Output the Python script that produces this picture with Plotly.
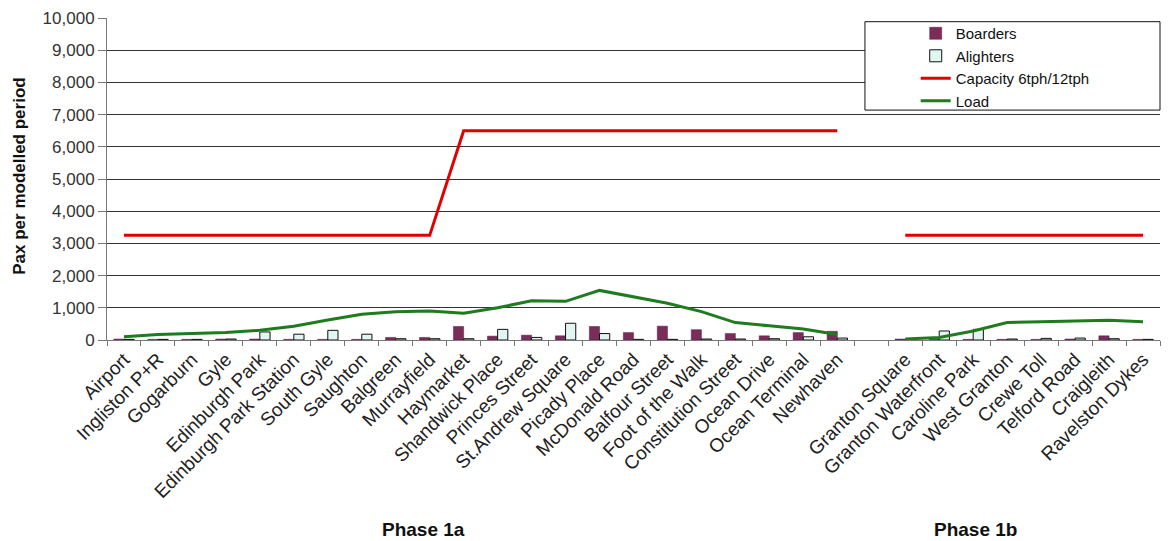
import plotly.graph_objects as go

# Stops along the line; a blank slot separates Phase 1a from Phase 1b
stops = [
    "Airport", "Ingliston P+R", "Gogarburn", "Gyle", "Edinburgh Park",
    "Edinburgh Park Station", "South Gyle", "Saughton", "Balgreen", "Murrayfield",
    "Haymarket", "Shandwick Place", "Princes Street", "St.Andrew Square",
    "Picady Place", "McDonald Road", "Balfour Street", "Foot of the Walk",
    "Constitution Street", "Ocean Drive", "Ocean Terminal", "Newhaven",
    " ",
    "Granton Square", "Granton Waterfront", "Caroline Park", "West Granton",
    "Crewe Toll", "Telford Road", "Craigleith", "Ravelston Dykes",
]

boarders = [
    30, 20, 20, 30, 30, 20, 20, 20, 80, 80,
    420, 120, 150, 130, 420, 230, 430, 320, 200, 130, 230, 270,
    None,
    30, 20, 20, 20, 20, 30, 130, 20,
]

alighters = [
    20, 20, 20, 30, 250, 180, 300, 180, 40, 40,
    40, 330, 80, 520, 200, 20, 20, 30, 30, 40, 100, 60,
    None,
    10, 280, 330, 30, 50, 60, 40, 20,
]

capacity = [
    3250, 3250, 3250, 3250, 3250, 3250, 3250, 3250, 3250, 3250,
    6500, 6500, 6500, 6500, 6500, 6500, 6500, 6500, 6500, 6500, 6500, 6500,
    None,
    3250, 3250, 3250, 3250, 3250, 3250, 3250, 3250,
]

load = [
    100, 170, 200, 230, 300, 430, 620, 800, 880, 900,
    830, 1000, 1220, 1200, 1540, 1350, 1140, 880, 540, 440, 340, 170,
    None,
    30, 80, 280, 540, 570, 590, 610, 570,
]

font_family = "Liberation Sans, Arial, sans-serif"

fig = go.Figure()
fig.add_trace(go.Bar(
    x=stops, y=boarders, name="Boarders",
    marker=dict(color="#7B2D5A", line=dict(color="#5a1f40", width=0.5)),
))
fig.add_trace(go.Bar(
    x=stops, y=alighters, name="Alighters",
    marker=dict(color="#E2F6F1", line=dict(color="#111111", width=1)),
))
fig.add_trace(go.Scatter(
    x=stops, y=capacity, name="Capacity 6tph/12tph", mode="lines",
    line=dict(color="#E00000", width=3), connectgaps=False,
))
fig.add_trace(go.Scatter(
    x=stops, y=load, name="Load", mode="lines",
    line=dict(color="#1E7B1E", width=3),
    connectgaps=False,
))

# Legend frame
fig.add_shape(
    type="rect", xref="paper", yref="paper",
    x0=0.7198, x1=1.0, y0=0.714, y1=0.9885,
    fillcolor="white", line=dict(color="#111111", width=1), layer="above",
)

fig.add_annotation(
    text="<b>Pax per modelled period</b>", xref="paper", yref="paper",
    x=-0.0826, y=0.507, xanchor="center", yanchor="middle",
    textangle=-90, showarrow=False,
    font=dict(size=17, color="#111111", family=font_family),
)
fig.add_annotation(
    text="<b>Phase 1a</b>", xref="paper", yref="paper",
    x=0.301, y=-0.59, xanchor="center", yanchor="middle", showarrow=False,
    font=dict(size=19, color="#111111", family=font_family),
)
fig.add_annotation(
    text="<b>Phase 1b</b>", xref="paper", yref="paper",
    x=0.825, y=-0.59, xanchor="center", yanchor="middle", showarrow=False,
    font=dict(size=19, color="#111111", family=font_family),
)

fig.update_layout(
    width=1169, height=541,
    margin=dict(l=107, r=9, t=18, b=201),
    paper_bgcolor="white", plot_bgcolor="white",
    barmode="group", bargap=0.4, bargroupgap=0.0,
    font=dict(family=font_family, color="#222222", size=17),
    showlegend=True,
    legend=dict(
        x=0.768, y=1.003, xanchor="left", yanchor="top",
        bgcolor="rgba(0,0,0,0)", borderwidth=0,
        font=dict(size=15, color="#111111"),
        itemwidth=30, tracegroupgap=0, traceorder="normal",
    ),
    xaxis=dict(
        type="category", categoryorder="array", categoryarray=stops,
        tickson="boundaries", ticks="outside", ticklen=5, tickcolor="#777777",
        showline=True, linecolor="#777777", linewidth=1,
        showgrid=False, tickangle=-45, automargin=False,
        tickfont=dict(size=19, color="#222222"),
    ),
    yaxis=dict(
        range=[0, 10000], dtick=1000, tickformat=",",
        showgrid=True, gridcolor="#333333", gridwidth=1,
        zeroline=False, automargin=False,
        showline=True, linecolor="#777777", linewidth=1,
        ticks="outside", ticklen=8, tickcolor="#777777",
        tickfont=dict(size=17, color="#333333"),
    ),
)

fig.write_html("out.html")
